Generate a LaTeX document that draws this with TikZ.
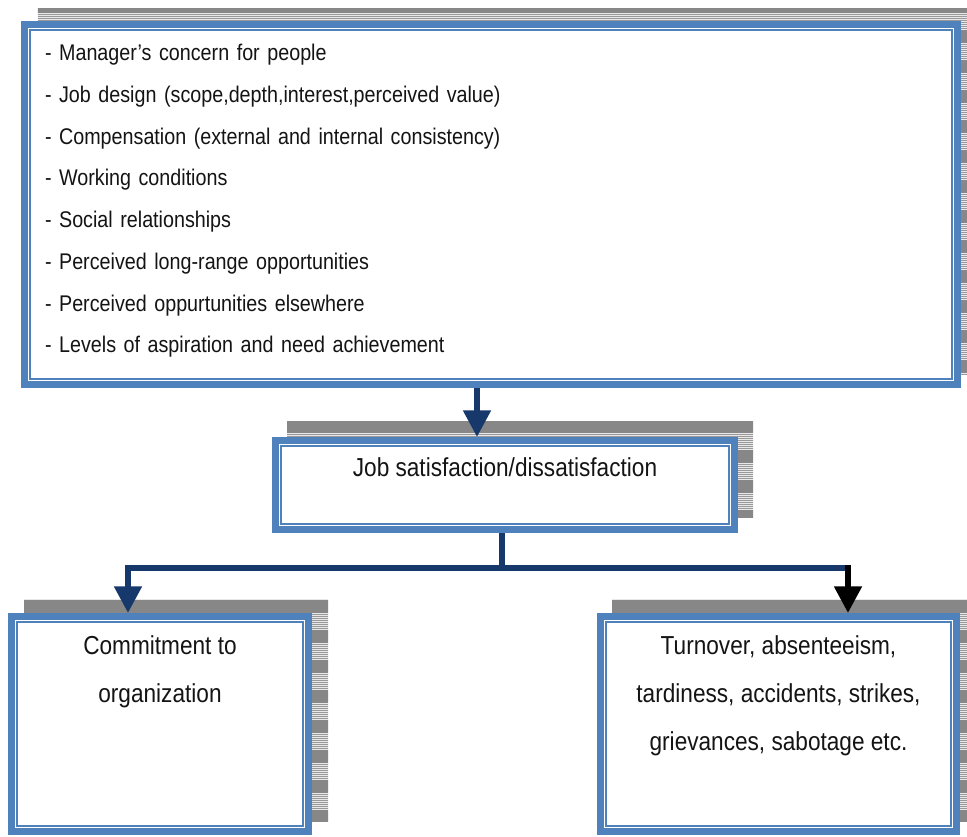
\documentclass[tikz,border=0pt]{standalone}
\usepackage{fontspec}
\setmainfont{Liberation Sans}[FakeStretch=0.87]
\usetikzlibrary{arrows.meta,backgrounds}
\definecolor{frameblue}{HTML}{4F81BD}
\definecolor{arrownavy}{HTML}{17386B}
\definecolor{txt}{HTML}{141414}
\makeatletter
\def\listsetup{\fontsize{17pt}{31.3pt}\selectfont\spaceskip=3.7pt\relax\xspaceskip=3.7pt\relax}
\makeatother
\tikzset{
  box/.style={draw=frameblue, line width=5.25pt, fill=white, inner sep=3pt, text=txt},
  innerline/.style={draw=frameblue, line width=1.1pt},
  shadowbase/.style={fill=black!9},
  shadowdark/.style={fill=black!47},
  shadowline/.style={draw=black!40, line width=0.6pt},
  conn/.style={line width=4.5pt, draw=arrownavy, line join=miter},
  tipped/.style={-{Triangle[width=20pt,length=20pt]}},
  bigtext/.style={font=\fontsize{19.5pt}{36pt}\selectfont},
}
\newcommand{\stripedshadow}[3]{% node, xshift, yshift(up negative)
  \begin{scope}
    \clip ([shift={(#2,#3)}]#1.north west) rectangle ([shift={(#2,#3)}]#1.south east);
    \fill[shadowbase] ([shift={(#2,#3)}]#1.north west) rectangle ([shift={(#2,#3)}]#1.south east);
    \foreach \k in {0,...,27}{
      \fill[shadowdark] (0,30*\k) rectangle (967,30*\k+13);
      \foreach \j in {0,...,7}{
        \draw[shadowline] (0,30*\k+14.5+2*\j) -- (967,30*\k+14.5+2*\j);
      }
    }
  \end{scope}}
\begin{document}
\begin{tikzpicture}[x=0.75pt,y=-0.75pt]
\useasboundingbox (0,0) rectangle (967,836);

% boxes
\node[box, font=\listsetup, minimum width=699.75pt, minimum height=270pt, text width=669pt, inner xsep=15.4pt,
      align=left] (factors) at (491,204.5)
  {- Manager’s concern for people\\
   - Job design (scope,depth,interest,perceived value)\\
   - Compensation (external and internal consistency)\\
   - Working conditions\\
   - Social relationships\\
   - Perceived long-range opportunities\\
   - Perceived oppurtunities elsewhere\\
   - Levels of aspiration and need achievement\rule[-9pt]{0pt}{9pt}};

\node[box, bigtext, minimum width=344.25pt, minimum height=66.75pt, text height=15pt, text depth=28pt]
  (satisf) at (505,485) {Job satisfaction/dissatisfaction};

\node[box, bigtext, align=center, minimum width=222.75pt, minimum height=161.25pt]
  (commit) at (160,724) {Commitment to\\ organization\rule[-83pt]{0pt}{83pt}};

\node[box, bigtext, align=center, minimum width=267pt, minimum height=161.25pt]
  (outcomes) at (778.5,724) {Turnover, absenteeism,\\ tardiness, accidents, strikes,\\ grievances, sabotage etc.\rule[-47pt]{0pt}{47pt}};

% inner thin frame lines
\foreach \b in {factors,satisf,commit,outcomes}{
  \draw[innerline] ([shift={(9,9)}]\b.north west) rectangle ([shift={(-9,-9)}]\b.south east);
}

% shadows
\begin{scope}[on background layer]
  \stripedshadow{factors}{17}{-13}
  \stripedshadow{satisf}{15}{-16}
  \stripedshadow{commit}{16}{-14}
  \stripedshadow{outcomes}{15}{-14}
\end{scope}

% connectors
\coordinate (a1) at (477,0);
\coordinate (jn) at (502,568);
\coordinate (lc) at (128,0);
\coordinate (rc) at (848,0);
\draw[conn, tipped] (factors.south -| a1) -- (satisf.north -| a1);
\draw[conn] (satisf.south -| jn) -- (jn);
\draw[conn, tipped] (jn) -| (commit.north -| lc);
\draw[conn] (jn) -- (rc |- jn);
\draw[conn, draw=black, tipped, line cap=rect] (rc |- jn) -- (outcomes.north -| rc);
\end{tikzpicture}
\end{document}
